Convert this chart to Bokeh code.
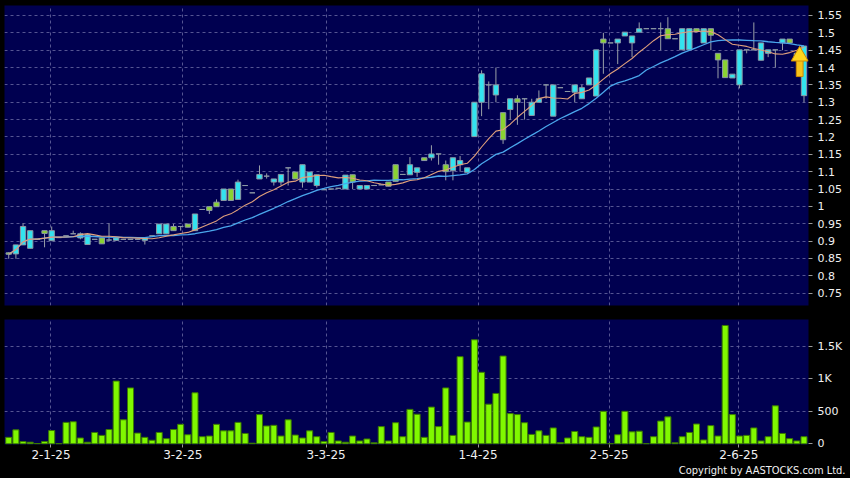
import pandas as pd
from bokeh.plotting import figure
from bokeh.layouts import column
from bokeh.models import ColumnDataSource, Range1d, FixedTicker, Title
from bokeh.embed import file_html
from bokeh.resources import INLINE

try:
    from bokeh.models import GlobalInlineStyleSheet
    page_sheets = [GlobalInlineStyleSheet(css="html, body { background-color: #000000; }")]
except Exception:
    page_sheets = []

# ---------------- data ----------------
opens = [0.866, 0.863, 0.889, 0.879, 0.905, 0.930, 0.901, 0.910, 0.915, 0.921,
         0.909, 0.890, 0.905, 0.909, 0.903, 0.902, 0.905, 0.905, 0.905, 0.902,
         0.915, 0.921, 0.921, 0.942, 0.942, 0.949, 0.930, 0.991, 0.999, 1.012,
         1.017, 1.050, 1.020, 1.060, 1.039, 1.079, 1.087, 1.070, 1.070, 1.111,
         1.099, 1.070, 1.070, 1.060, 1.048, 1.050, 1.052, 1.050, 1.091, 1.050,
         1.050, 1.060, 1.062, 1.070, 1.120, 1.092, 1.091, 1.098, 1.140, 1.140,
         1.151, 1.120, 1.103, 1.120, 1.098, 1.201, 1.300, 1.350, 1.321, 1.270,
         1.279, 1.310, 1.310, 1.262, 1.300, 1.350, 1.260, 1.342, 1.331, 1.329,
         1.310, 1.350, 1.318, 1.482, 1.471, 1.471, 1.491, 1.471, 1.502, 1.512,
         1.512, 1.512, 1.512, 1.483, 1.451, 1.451, 1.512, 1.471, 1.512, 1.441,
         1.422, 1.370, 1.350, 1.451, 1.451, 1.421, 1.441, 1.451, 1.471, 1.482,
         1.430, 1.319]
closes = [0.862, 0.889, 0.942, 0.930, 0.905, 0.922, 0.930, 0.910, 0.915, 0.921,
          0.921, 0.919, 0.905, 0.892, 0.903, 0.909, 0.905, 0.905, 0.905, 0.909,
          0.915, 0.949, 0.949, 0.930, 0.942, 0.940, 0.978, 0.991, 0.988, 0.999,
          1.050, 1.017, 1.070, 1.060, 1.039, 1.092, 1.087, 1.079, 1.092, 1.111,
          1.079, 1.120, 1.099, 1.091, 1.048, 1.050, 1.052, 1.090, 1.070, 1.060,
          1.060, 1.060, 1.062, 1.058, 1.072, 1.092, 1.120, 1.111, 1.132, 1.151,
          1.151, 1.100, 1.140, 1.132, 1.111, 1.300, 1.382, 1.350, 1.350, 1.192,
          1.310, 1.300, 1.310, 1.300, 1.310, 1.350, 1.350, 1.342, 1.331, 1.350,
          1.342, 1.370, 1.451, 1.471, 1.471, 1.482, 1.502, 1.491, 1.512, 1.512,
          1.512, 1.512, 1.483, 1.483, 1.512, 1.512, 1.504, 1.512, 1.493, 1.422,
          1.371, 1.381, 1.451, 1.451, 1.451, 1.471, 1.451, 1.451, 1.482, 1.471,
          1.441, 1.462]
highs = [0.868, 0.889, 0.951, 0.930, 0.905, 0.930, 0.942, 0.910, 0.915, 0.930,
         0.925, 0.919, 0.905, 0.909, 0.951, 0.909, 0.905, 0.906, 0.906, 0.909,
         0.915, 0.949, 0.949, 0.949, 0.942, 0.949, 0.978, 0.991, 0.999, 1.020,
         1.050, 1.050, 1.077, 1.060, 1.039, 1.118, 1.095, 1.079, 1.092, 1.111,
         1.099, 1.120, 1.099, 1.091, 1.048, 1.050, 1.052, 1.090, 1.091, 1.060,
         1.060, 1.060, 1.062, 1.070, 1.120, 1.092, 1.142, 1.111, 1.140, 1.176,
         1.151, 1.132, 1.140, 1.145, 1.111, 1.300, 1.392, 1.360, 1.400, 1.270,
         1.310, 1.320, 1.310, 1.310, 1.334, 1.350, 1.350, 1.342, 1.331, 1.350,
         1.350, 1.370, 1.451, 1.500, 1.471, 1.482, 1.502, 1.491, 1.530, 1.512,
         1.512, 1.530, 1.545, 1.483, 1.512, 1.512, 1.512, 1.512, 1.512, 1.441,
         1.422, 1.381, 1.451, 1.451, 1.530, 1.471, 1.451, 1.451, 1.482, 1.482,
         1.441, 1.462]
lows = [0.849, 0.849, 0.889, 0.879, 0.905, 0.882, 0.901, 0.910, 0.915, 0.921,
        0.905, 0.890, 0.905, 0.892, 0.900, 0.902, 0.905, 0.904, 0.904, 0.890,
        0.915, 0.921, 0.921, 0.930, 0.930, 0.940, 0.930, 0.991, 0.978, 0.999,
        1.017, 1.017, 1.020, 1.060, 1.039, 1.079, 1.080, 1.060, 1.060, 1.060,
        1.079, 1.054, 1.070, 1.054, 1.048, 1.050, 1.052, 1.050, 1.050, 1.050,
        1.050, 1.060, 1.062, 1.058, 1.072, 1.092, 1.091, 1.085, 1.132, 1.132,
        1.120, 1.075, 1.075, 1.100, 1.098, 1.201, 1.260, 1.280, 1.300, 1.180,
        1.250, 1.235, 1.250, 1.262, 1.300, 1.310, 1.260, 1.342, 1.331, 1.300,
        1.310, 1.350, 1.318, 1.382, 1.471, 1.410, 1.491, 1.430, 1.502, 1.512,
        1.512, 1.450, 1.483, 1.483, 1.451, 1.451, 1.504, 1.471, 1.450, 1.369,
        1.371, 1.370, 1.340, 1.441, 1.451, 1.421, 1.430, 1.400, 1.450, 1.471,
        1.430, 1.300]
volumes = [100, 215, 35, 25, 5, 35, 205, 3, 330, 340,
           90, 25, 175, 130, 220, 965, 370, 860, 165, 100,
           55, 175, 80, 220, 300, 140, 785, 110, 120, 300,
           200, 200, 330, 160, 10, 450, 275, 285, 120, 370,
           135, 90, 200, 110, 35, 175, 45, 25, 120, 45,
           75, 15, 265, 45, 325, 110, 530, 455, 100, 565,
           265, 860, 130, 1340, 335, 1600, 1100, 610, 775, 1350,
           465, 450, 325, 145, 200, 130, 245, 20, 90, 190,
           110, 100, 260, 500, 2, 140, 500, 185, 195, 2,
           110, 350, 415, 15, 110, 175, 305, 60, 280, 120,
           1820, 450, 120, 130, 245, 45, 110, 585, 160, 80,
           45, 110]

date_tick_pos = [5.9, 24.3, 44.3, 65.5, 83.8, 101.9]
date_tick_labels = ["2-1-25", "3-2-25", "3-3-25", "1-4-25", "2-5-25", "2-6-25"]
price_ticks = [0.75, 0.8, 0.85, 0.9, 0.95, 1.0, 1.05, 1.1, 1.15, 1.2,
               1.25, 1.3, 1.35, 1.4, 1.45, 1.5, 1.55]
volume_ticks = [0, 500, 1000, 1500]
volume_tick_labels = ["0", "500", "1K", "1.5K"]
ma_short, ma_long = 10, 20
arrow_idx = [110.4]
arrow_price = [1.433]
arrow_base_price = [1.374]
copyright_text = "Copyright by AASTOCKS.com Ltd."

# ---------------- styling ----------------
BG = "#000000"
PANEL = "#000050"
GRID = "#64649e"
CYAN = "#33e3ef"
GREEN = "#8ad232"
DOJI = "#a8acb4"
EDGE = "#8c98a4"
WICK = "#9aa0a8"
VOL = "#80f800"
VOL_EDGE = "#3b7a00"
FONT = "DejaVu Sans"

n = len(closes)
idx = list(range(n))
df = pd.DataFrame({"x": idx, "open": opens, "close": closes,
                   "high": highs, "low": lows, "vol": volumes})
df["top"] = df[["open", "close"]].max(axis=1)
df["bottom"] = df[["open", "close"]].min(axis=1)
df["color"] = [CYAN if c > o else (GREEN if c < o else DOJI)
               for o, c in zip(opens, closes)]
df["ma_s"] = df["close"].rolling(ma_short, min_periods=1).mean()
df["ma_l"] = df["close"].rolling(ma_long, min_periods=1).mean()
src = ColumnDataSource(df)

x_range = Range1d(-0.59, n - 1 + 0.63)


def style_common(p):
    p.xgrid.ticker = FixedTicker(ticks=date_tick_pos)
    for g in (p.xgrid, p.ygrid):
        g.grid_line_color = GRID
        g.grid_line_dash = "3 3"
        g.grid_line_width = 1
        g.grid_line_alpha = 0.85
    ax = p.yaxis[0]
    ax.axis_line_color = None
    ax.major_tick_in = 0
    ax.major_tick_out = 4
    ax.major_tick_line_color = "#9a9a9a"
    ax.minor_tick_line_color = None
    ax.major_label_text_color = "#f0f0f0"
    ax.major_label_text_font = FONT
    ax.major_label_text_font_size = "11px"
    ax.major_label_standoff = 5


# ---------------- price panel ----------------
p1 = figure(frame_width=804, frame_height=300, x_range=x_range,
            y_range=Range1d(0.7143, 1.5788), output_backend="svg",
            toolbar_location=None, x_axis_location=None, y_axis_location="right",
            min_border_left=4, min_border_top=5, min_border_bottom=14, min_border_right=38,
            background_fill_color=PANEL, border_fill_color=BG, outline_line_color=None)
style_common(p1)
p1.yaxis.ticker = FixedTicker(ticks=price_ticks)
p1.yaxis.major_label_overrides = {t: f"{t:g}" for t in price_ticks}
p1.ygrid.ticker = FixedTicker(ticks=price_ticks)

p1.segment(x0="x", y0="low", x1="x", y1="high", source=src, line_color=WICK, line_width=1)
p1.vbar(x="x", top="top", bottom="bottom", width=0.74, source=src,
        fill_color="color", line_color=EDGE, line_width=1)
p1.line(x="x", y="ma_l", source=src, line_color="#4aa6ec", line_width=1.3)
p1.line(x="x", y="ma_s", source=src, line_color="#e0a07c", line_width=1.1)

# yellow arrow marker
p1.vbar(x=arrow_idx, top=arrow_price, bottom=arrow_base_price, width=0.95,
        fill_color="#f7c21a", line_color="#d08a00", line_width=1)
p1.scatter(x=arrow_idx, y=arrow_price, marker="triangle", size=17,
           fill_color="#ffd51f", line_color="#d08a00", line_width=1)

# ---------------- volume panel ----------------
p2 = figure(frame_width=804, frame_height=125, x_range=x_range,
            y_range=Range1d(-10, 1912), output_backend="svg",
            toolbar_location=None, y_axis_location="right",
            min_border_left=4, min_border_top=0, min_border_bottom=0, min_border_right=38,
            background_fill_color=PANEL, border_fill_color=BG, outline_line_color=None)
style_common(p2)
p2.yaxis.ticker = FixedTicker(ticks=volume_ticks)
p2.yaxis.major_label_overrides = dict(zip(volume_ticks, volume_tick_labels))
p2.ygrid.ticker = FixedTicker(ticks=volume_ticks[1:])

xa = p2.xaxis[0]
xa.ticker = FixedTicker(ticks=date_tick_pos)
xa.major_label_overrides = dict(zip(date_tick_pos, date_tick_labels))
xa.axis_line_color = None
xa.major_tick_in = 0
xa.major_tick_out = 3
xa.major_tick_line_color = "#9a9a9a"
xa.minor_tick_line_color = None
xa.major_label_text_color = "#f0f0f0"
xa.major_label_text_font = FONT
xa.major_label_text_font_size = "12px"
xa.major_label_standoff = 2

p2.vbar(x="x", top="vol", bottom=0, width=0.84, source=src,
        fill_color=VOL, line_color=VOL_EDGE, line_width=1)

p2.add_layout(Title(text=copyright_text, align="right", offset=-37, standoff=0,
                    text_color="#f0f0f0", text_font="DejaVu Sans Condensed, DejaVu Sans",
                    text_font_size="11px", text_font_style="normal",
                    background_fill_color=None), "below")

layout = column(p1, p2, spacing=0, stylesheets=page_sheets,
                styles={"background-color": BG})
open("out.html", "w").write(file_html(layout, INLINE))
